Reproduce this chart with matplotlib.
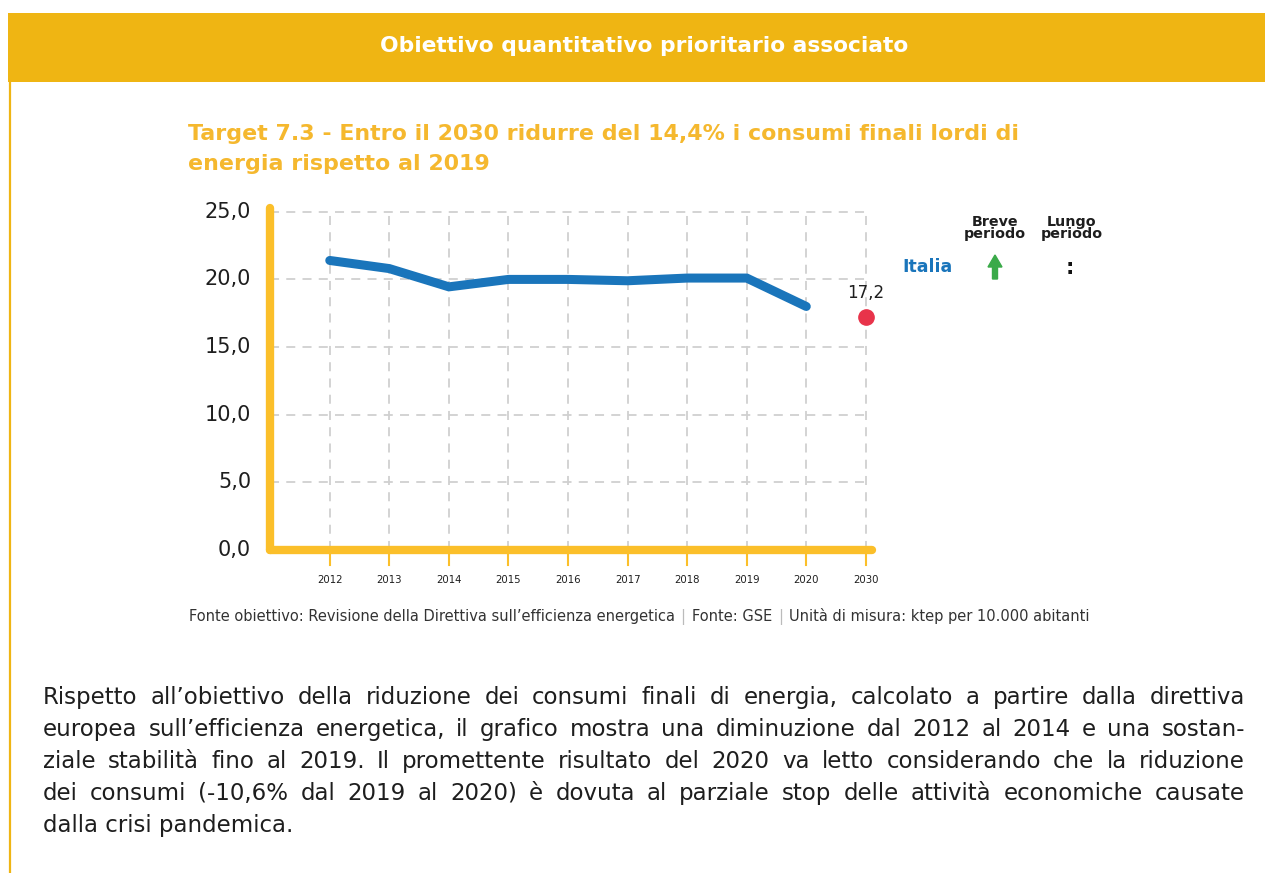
import matplotlib
matplotlib.use("Agg")
import matplotlib.pyplot as plt
from matplotlib.patches import Rectangle, FancyArrow

# ---- data ----
years = ["2012", "2013", "2014", "2015", "2016", "2017", "2018", "2019", "2020", "2030"]
values = [21.4, 20.8, 19.45, 20.0, 20.0, 19.9, 20.1, 20.1, 18.0]
target_value = 17.2
target_label = "17,2"
yticks = [0, 5, 10, 15, 20, 25]
ytick_labels = ["0,0", "5,0", "10,0", "15,0", "20,0", "25,0"]

header_text = "Obiettivo quantitativo prioritario associato"
title_lines = ["Target 7.3 - Entro il 2030 ridurre del 14,4% i consumi finali lordi di",
               "energia rispetto al 2019"]
source_parts = ["Fonte obiettivo: Revisione della Direttiva sull\u2019efficienza energetica",
                "Fonte: GSE", "Unit\u00e0 di misura: ktep per 10.000 abitanti"]
paragraph = [
    "Rispetto all\u2019obiettivo della riduzione dei consumi finali di energia, calcolato a partire dalla direttiva",
    "europea sull\u2019efficienza energetica, il grafico mostra una diminuzione dal 2012 al 2014 e una sostan-",
    "ziale stabilit\u00e0 fino al 2019. Il promettente risultato del 2020 va letto considerando che la riduzione",
    "dei consumi (-10,6% dal 2019 al 2020) \u00e8 dovuta al parziale stop delle attivit\u00e0 economiche causate",
    "dalla crisi pandemica.",
]

W, H = 1265, 873
YEL = "#EFB513"
AXC = "#FBBF2A"
BLUE = "#1A75BB"
RED = "#E8334A"
GRID = "#D0D0D0"
TXT = "#1E1E1E"

plt.rcParams['font.family'] = ["DejaVu Sans"]
fig = plt.figure(figsize=(W / 100, H / 100), dpi=100)

def fx(px):
    return px / W

def fy(py):
    return 1 - py / H

# header band
fig.patches.append(Rectangle((fx(8), fy(82)), fx(W - 8), (69) / H, transform=fig.transFigure,
                             facecolor=YEL, edgecolor="none", zorder=0))
fig.lines.append(plt.Line2D([fx(9.5), fx(9.5)], [fy(82), fy(H)], transform=fig.transFigure,
                            color=YEL, lw=1.6))
fig.text(fx(644), fy(46), header_text, color="white", fontsize=15.7, fontweight="bold",
         ha="center", va="center")

# chart title
for i, t in enumerate(title_lines):
    fig.text(fx(188), fy(134 + i * 30), t, color="#F5B82E", fontsize=15.9, fontweight="bold",
             ha="left", va="center")

# axes
left, right, bottom, top = 269, 873, 550, 205
ax = fig.add_axes([fx(left), fy(bottom), fx(right - left), (bottom - top) / H])
x = list(range(len(years)))
ax.set_xlim(-1.02, 9.12)
ax.set_ylim(0, 25.5)
for s in ax.spines.values():
    s.set_visible(False)
ax.set_xticks([])
ax.set_yticks([])
ax.patch.set_alpha(0)

# grid
for yv in yticks[1:]:
    ax.plot([-1.0, 9], [yv, yv], color=GRID, lw=1.3, ls=(0, (5, 4)), zorder=1)
for xi in x:
    ax.plot([xi, xi], [0, 25], color=GRID, lw=1.3, ls=(0, (5, 4)), zorder=1)

# axis lines
ax.plot([-1.0, -1.0], [0, 25.3], color=AXC, lw=6, solid_capstyle="round", clip_on=False, zorder=3)
ax.plot([-1.0, 9.1], [0, 0], color=AXC, lw=6, solid_capstyle="round", clip_on=False, zorder=3)
for xi in x:
    ax.plot([xi, xi], [0, -1.1], color=AXC, lw=1.5, clip_on=False, zorder=2)

# tick labels
for yv, lab in zip(yticks, ytick_labels):
    ax.text(-1.32, yv, lab, ha="right", va="center", fontsize=15, color=TXT)
for xi, lab in zip(x, years):
    ax.text(xi, -2.2, lab, ha="center", va="center", fontsize=7.3, color=TXT)

# data
ax.plot(x[:len(values)], values, color=BLUE, lw=6.5, solid_capstyle="round",
        solid_joinstyle="miter", zorder=4)
ax.plot([x[-1]], [target_value], "o", color=RED, ms=11, zorder=5, clip_on=False)
ax.text(x[-1], target_value + 1.1, target_label, ha="center", va="bottom",
        fontsize=12, color=TXT)

# right panel
fig.text(fx(928), fy(267), "Italia", color=BLUE, fontsize=12.5, fontweight="bold",
         ha="center", va="center")
fig.text(fx(995), fy(228), "Breve\nperiodo", color=TXT, fontsize=10.3, fontweight="bold",
         ha="center", va="center", linespacing=0.85)
fig.text(fx(1072), fy(228), "Lungo\nperiodo", color=TXT, fontsize=10.3, fontweight="bold",
         ha="center", va="center", linespacing=0.85)
fig.patches.append(FancyArrow(fx(995), fy(279), 0, 24 / H, width=fx(5), head_width=fx(14),
                              head_length=12 / H, length_includes_head=True,
                              transform=fig.transFigure, color="#3AAA49"))
fig.text(fx(1070), fy(268), ":", color="#111111", fontsize=15, fontweight="bold",
         ha="center", va="center")

# source line
fig.canvas.draw()
r = fig.canvas.get_renderer()
sfs = 10.5
segs = []
for i, p in enumerate(source_parts):
    segs.append((p, "#333333"))
    if i < len(source_parts) - 1:
        segs.append(("|", "#BBBBBB"))
widths = []
for s, c in segs:
    t = fig.text(0, 0, s, fontsize=sfs)
    widths.append(t.get_window_extent(r).width)
    t.remove()
gap = 6
total = sum(widths) + gap * (len(segs) - 1)
xpos = 639 - total / 2
for (s, c), w in zip(segs, widths):
    fig.text(fx(xpos), fy(621), s, fontsize=sfs, color=c, ha="left", va="baseline")
    xpos += w + gap

# paragraph (justified)
pfs = 16.5
x0, x1 = 43, 1245
for li, line in enumerate(paragraph):
    yy = fy(704 + li * 32)
    if li == len(paragraph) - 1:
        fig.text(fx(x0), yy, line, fontsize=pfs, color=TXT, ha="left", va="baseline")
        continue
    words = line.split(" ")
    ws = []
    for w in words:
        t = fig.text(0, 0, w, fontsize=pfs)
        ws.append(t.get_window_extent(r).width)
        t.remove()
    space = (x1 - x0 - sum(ws)) / (len(words) - 1)
    xp = x0
    for w, wd in zip(words, ws):
        fig.text(fx(xp), yy, w, fontsize=pfs, color=TXT, ha="left", va="baseline")
        xp += wd + space

fig.savefig("out.png", dpi=100, facecolor="white")
